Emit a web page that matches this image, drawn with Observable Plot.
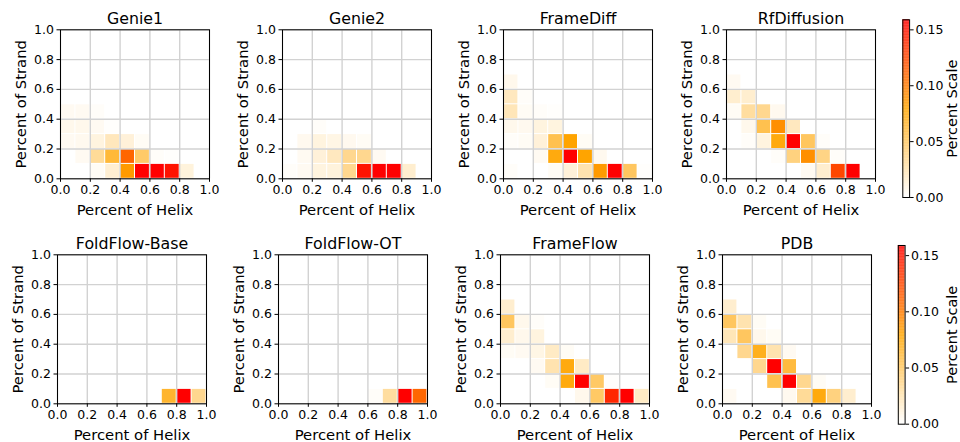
<!DOCTYPE html>
<html><head><meta charset="utf-8">
<script src="https://cdn.jsdelivr.net/npm/d3@7"></script>
<script src="https://cdn.jsdelivr.net/npm/@observablehq/plot@0.6"></script>
<style>
body{margin:0;background:#fff;}
#chart{position:relative;width:960px;height:442px;overflow:hidden;background:#fff;}
#chart svg{position:absolute;overflow:visible;max-width:none;}
</style></head><body><div id="chart"></div>
<script>
// ---------- data ----------
const edges = [0, 0.1, 0.2, 0.3, 0.4, 0.5, 0.6, 0.7, 0.8, 0.9, 1.0];
const axisTicks = [0, 0.2, 0.4, 0.6, 0.8, 1.0];
const cbarTicks = [0, 0.05, 0.10, 0.15];
const colorMax = 0.159;
const colorStops = ["#ffffff", "#ffa500", "#ff0000"];
const titles = ["Genie1", "Genie2", "FrameDiff", "RfDiffusion", "FoldFlow-Base", "FoldFlow-OT", "FrameFlow", "PDB"];
const xLabel = "Percent of Helix";
const yLabel = "Percent of Strand";
const cbarLabel = "Percent Scale";
// rows: strand bins 0.0-0.1, 0.1-0.2, ...; columns: helix bins 0.0-0.1 ... 0.9-1.0
const genie1 = [
  [0, 0, 0.003, 0.014, 0.085, 0.16, 0.16, 0.15, 0.011, 0],
  [0, 0.004, 0.032, 0.062, 0.11, 0.047, 0.002, 0.001, 0, 0],
  [0.004, 0.005, 0.01, 0.021, 0.012, 0.003, 0, 0, 0, 0],
  [0.006, 0.006, 0.004, 0.001, 0, 0, 0, 0, 0, 0],
  [0.004, 0.004, 0.002, 0, 0, 0, 0, 0, 0, 0]
];
const genie2 = [
  [0.002, 0.004, 0.01, 0.011, 0.035, 0.15, 0.16, 0.16, 0.015, 0],
  [0, 0.004, 0.012, 0.02, 0.035, 0.035, 0.004, 0, 0, 0],
  [0, 0.005, 0.01, 0.008, 0.005, 0.003, 0, 0, 0, 0],
  [0, 0, 0.002, 0, 0, 0, 0, 0, 0, 0]
];
const frameDiff = [
  [0.002, 0, 0, 0.003, 0.012, 0.025, 0.085, 0.16, 0.05, 0.001],
  [0, 0, 0.004, 0.075, 0.16, 0.08, 0.005, 0, 0, 0],
  [0.002, 0.003, 0.012, 0.055, 0.08, 0.003, 0, 0, 0, 0],
  [0.006, 0.005, 0.01, 0.01, 0, 0, 0, 0, 0, 0],
  [0.022, 0.003, 0.002, 0.001, 0, 0, 0, 0, 0, 0],
  [0.02, 0.002, 0, 0, 0, 0, 0, 0, 0, 0],
  [0.006, 0, 0, 0, 0, 0, 0, 0, 0, 0]
];
const rfDiffusion = [
  [0, 0, 0, 0, 0, 0.004, 0.015, 0.125, 0.16, 0],
  [0, 0, 0, 0.002, 0.04, 0.09, 0.038, 0.002, 0, 0],
  [0, 0.002, 0.01, 0.075, 0.16, 0.05, 0.002, 0, 0, 0],
  [0, 0.006, 0.055, 0.09, 0.02, 0, 0, 0, 0, 0],
  [0.003, 0.03, 0.035, 0.005, 0, 0, 0, 0, 0, 0],
  [0.015, 0.015, 0, 0, 0, 0, 0, 0, 0, 0],
  [0.004, 0, 0, 0, 0, 0, 0, 0, 0, 0]
];
const foldFlowBase = [
  [0, 0, 0, 0, 0, 0, 0, 0.065, 0.16, 0.035]
];
const foldFlowOT = [
  [0, 0, 0, 0, 0, 0, 0.002, 0.03, 0.16, 0.11]
];
const frameFlow = [
  [0, 0, 0, 0, 0, 0.006, 0.048, 0.14, 0.16, 0.018],
  [0, 0, 0, 0.003, 0.075, 0.16, 0.048, 0.001, 0, 0],
  [0, 0, 0.004, 0.025, 0.075, 0.018, 0, 0, 0, 0],
  [0.003, 0.004, 0.008, 0.018, 0.003, 0, 0, 0, 0, 0],
  [0.015, 0.006, 0.01, 0, 0, 0, 0, 0, 0, 0],
  [0.05, 0.006, 0.002, 0, 0, 0, 0, 0, 0, 0],
  [0.015, 0, 0, 0, 0, 0, 0, 0, 0, 0]
];
const pdb = [
  [0.004, 0, 0, 0, 0.005, 0.032, 0.075, 0.04, 0.015, 0],
  [0, 0, 0, 0.055, 0.16, 0.035, 0.003, 0, 0, 0],
  [0, 0, 0.035, 0.16, 0.06, 0, 0, 0, 0, 0],
  [0, 0.035, 0.07, 0.025, 0.004, 0, 0, 0, 0, 0],
  [0.022, 0.05, 0.006, 0.003, 0, 0, 0, 0, 0, 0],
  [0.05, 0.025, 0.003, 0, 0, 0, 0, 0, 0, 0],
  [0.015, 0, 0, 0, 0, 0, 0, 0, 0, 0]
];
const matrices = [genie1, genie2, frameDiff, rfDiffusion, foldFlowBase, foldFlowOT, frameFlow, pdb];

// ---------- layout ----------
const font = "'DejaVu Sans', sans-serif";
const axesSize = 149;
const panelPos = [ // plot-area left, top, row top
  [60, 29.3, 0], [281.5, 29.3, 0], [503, 29.3, 0], [726, 29.3, 0],
  [57, 254.3, 221], [278.3, 254.3, 221], [500, 254.3, 221], [722, 254.3, 221]
];
const cbarPos = [[902.3, 19.3, 177.7, 0], [897.8, 245, 178.7, 221]]; // left, top, height, row top
const colorScale = {
  type: "linear", domain: [0, colorMax], clamp: true,
  interpolate: d3.piecewise(d3.interpolateRgb, colorStops)
};
const chart = document.getElementById("chart");

function cells(m) {
  const out = [];
  m.forEach((row, j) => row.forEach((v, i) => {
    if (v > 0) out.push({x1: edges[i], x2: edges[i + 1], y1: edges[j], y2: edges[j + 1], v});
  }));
  return out;
}

function panel(k) {
  const [left, top, rowTop] = panelPos[k];
  const ml = 60, mr = 12, mt = top - rowTop;
  const svg = Plot.plot({
    width: ml + axesSize + mr, height: 221,
    marginLeft: ml, marginRight: mr, marginTop: mt, marginBottom: 221 - mt - axesSize,
    style: {fontFamily: font, fontSize: "12.5px", color: "#000", background: "transparent", overflow: "visible"},
    x: {domain: [0, 1]},
    y: {domain: [0, 1]},
    color: colorScale,
    marks: [
      Plot.rect(cells(matrices[k]), {x1: "x1", x2: "x2", y1: "y1", y2: "y2", fill: "v", inset: 0.5}),
      Plot.gridX(axisTicks, {stroke: "#d2d2d2", strokeOpacity: 1, strokeWidth: 1.4}),
      Plot.gridY(axisTicks, {stroke: "#d2d2d2", strokeOpacity: 1, strokeWidth: 1.4}),
      Plot.frame({stroke: "#000", strokeWidth: 1}),
      Plot.axisX(axisTicks, {tickFormat: d3.format(".1f"), tickSize: 3.5, tickPadding: 3, label: null, fontSize: 12.5}),
      Plot.axisY(axisTicks, {tickFormat: d3.format(".1f"), tickSize: 3.5, tickPadding: 3, label: null, fontSize: 12.5}),
      Plot.text([titles[k]], {text: d => d, frameAnchor: "top", lineAnchor: "bottom", dy: -6, fontSize: 15.8}),
      Plot.text([xLabel], {text: d => d, frameAnchor: "bottom", lineAnchor: "bottom", dy: 36, fontSize: 14.8}),
      Plot.text([yLabel], {text: d => d, frameAnchor: "left", textAnchor: "middle", lineAnchor: "bottom", rotate: -90, dx: -34.5, fontSize: 14.8})
    ]
  });
  svg.style.left = (left - ml) + "px";
  svg.style.top = rowTop + "px";
  chart.appendChild(svg);
}

function colorbar(c) {
  const [left, top, h, rowTop] = cbarPos[c];
  const x0 = 880, w = 80, bw = 6.8;
  const ml = left - x0, mt = top - rowTop;
  const n = 240, step = colorMax / n;
  const stops = d3.range(n).map(i => i * step);
  const svg = Plot.plot({
    width: w, height: 221,
    marginLeft: ml, marginRight: w - ml - bw, marginTop: mt, marginBottom: 221 - mt - h,
    style: {fontFamily: font, fontSize: "12.5px", color: "#000", background: "transparent", overflow: "visible"},
    x: {domain: [0, 1], axis: null},
    y: {domain: [0, colorMax]},
    color: colorScale,
    marks: [
      Plot.rect(stops, {x1: 0, x2: 1, y1: d => d, y2: d => d + step * 1.05, fill: d => d}),
      Plot.frame({stroke: "#000", strokeWidth: 1}),
      Plot.axisY(cbarTicks, {anchor: "right", tickFormat: d3.format(".2f"), tickSize: 3.5, tickPadding: 2.5, label: null, fontSize: 12.5}),
      Plot.text([cbarLabel], {text: d => d, frameAnchor: "right", textAnchor: "middle", lineAnchor: "bottom", rotate: -90, dx: 956.3 - (left + bw), fontSize: 14.5})
    ]
  });
  svg.style.left = x0 + "px";
  svg.style.top = rowTop + "px";
  chart.appendChild(svg);
}

titles.forEach((t, k) => panel(k));
cbarPos.forEach((c, i) => colorbar(i));
</script>
</body></html>
